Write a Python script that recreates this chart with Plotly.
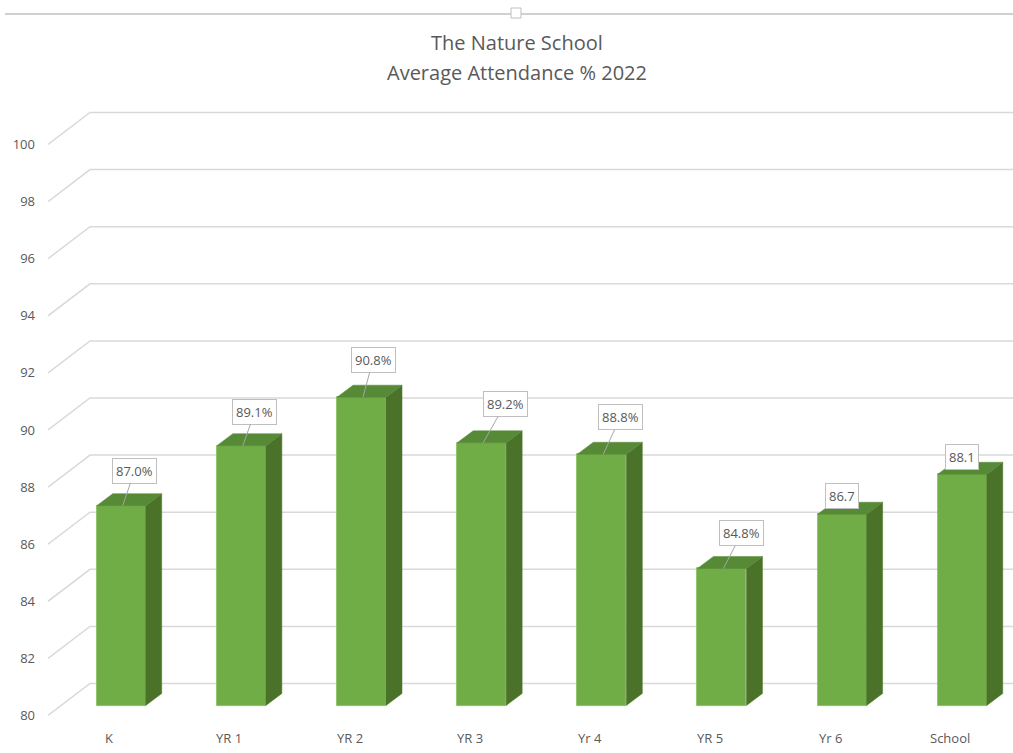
import plotly.graph_objects as go

# ---- data ----
categories = ["K", "YR 1", "YR 2", "YR 3", "Yr 4", "YR 5", "Yr 6", "School"]
attendance = [87.0, 89.1, 90.8, 89.2, 88.8, 84.8, 86.7, 88.1]
value_labels = ["87.0%", "89.1%", "90.8%", "89.2%", "88.8%", "84.8%", "86.7", "88.1"]
y_ticks = list(range(80, 101, 2))

# ---- page / plot geometry (pixels) ----
W, H = 1013, 753
ML, MR, MT, MB = 48, 0, 100, 33
PW, PH = W - ML - MR, H - MT - MB
X_PX = 120.15         # pixels per category step
Y_PX = 28.55          # pixels per attendance point
FIRST_CENTER_PX = 121.2
BASE_PX = 705.5       # pixel row where the columns stand (value 80)
FLOOR = 80
LABEL_DROP_PX = 10    # the axis/gridline front edge sits in front of the columns

x0 = -(FIRST_CENTER_PX - ML) / X_PX
x1 = x0 + PW / X_PX
y0 = FLOOR - (H - MB - BASE_PX) / Y_PX
y1 = y0 + PH / Y_PX
drop = LABEL_DROP_PX / Y_PX

bar_w = 49 / X_PX
# depth of the columns and of the back wall, in data units
bar_dx, bar_dy = 16 / X_PX, 12 / Y_PX
wall_dx, wall_dy = 42 / X_PX, 32 / Y_PX

FRONT = "#70AD47"
SIDE = "#4A7229"
TOP = "#578A37"
GRID = "#D9D9D9"
TEXT = "#595959"
FONT = "Open Sans"

fig = go.Figure()

shapes = []
# floor/back-wall gridlines (on the front axis plane), kept beneath the columns
for v in y_ticks:
    shapes.append(dict(
        type="path", xref="x", yref="y2", layer="below",
        path=f"M {x0},{v} L {x0 + wall_dx},{v + wall_dy} L {x1},{v + wall_dy}",
        line=dict(color=GRID, width=1.5)))

# side and top faces of each column
for i, v in enumerate(attendance):
    xl, xr = i - bar_w / 2, i + bar_w / 2
    fig.add_trace(go.Scatter(
        x=[xr, xr + bar_dx, xr + bar_dx, xr, xr],
        y=[FLOOR, FLOOR + bar_dy, v + bar_dy, v, FLOOR],
        mode="lines", fill="toself", fillcolor=SIDE,
        line=dict(color=SIDE, width=0.5), hoverinfo="skip", showlegend=False))
    fig.add_trace(go.Scatter(
        x=[xl, xl + bar_dx, xr + bar_dx, xr, xl],
        y=[v, v + bar_dy, v + bar_dy, v, v],
        mode="lines", fill="toself", fillcolor=TOP,
        line=dict(color=TOP, width=0.5), hoverinfo="skip", showlegend=False))

# front faces
fig.add_trace(go.Bar(
    x=list(range(len(categories))), y=[v - FLOOR for v in attendance], base=FLOOR,
    width=bar_w, marker=dict(color=FRONT, line=dict(color="#7DBB52", width=0.8)),
    hoverinfo="skip", showlegend=False))

# invisible trace that carries the front-plane value axis
fig.add_trace(go.Scatter(x=[0], y=[FLOOR], yaxis="y2", mode="markers",
                         marker=dict(opacity=0), hoverinfo="skip", showlegend=False))

# value call-outs: (dx, dy) pixel offset of the box, leader line or not
callouts = [(12, -35, True), (12, -34, True), (10, -37, True), (22, -39, True),
            (17, -37, True), (18, -35, True), (0, -18, False), (0, -17, False)]

annotations = []
for i, (v, lab) in enumerate(zip(attendance, value_labels)):
    dx, dy, leader = callouts[i]
    common = dict(text=lab, font=dict(family=FONT, size=13, color=TEXT),
                  bgcolor="white", bordercolor="#BFBFBF", borderwidth=1, borderpad=3)
    if leader:
        annotations.append(dict(
            x=i + 1.5 / X_PX, y=v, xref="x", yref="y",
            showarrow=True, arrowhead=0, arrowwidth=1, arrowcolor="#A6A6A6",
            axref="pixel", ayref="pixel", ax=dx, ay=dy, standoff=0, **common))
    else:
        annotations.append(dict(
            x=i, y=v, xref="x", yref="y", showarrow=False,
            xshift=dx, yshift=-dy, **common))

# category names under the columns
for i, c in enumerate(categories):
    annotations.append(dict(
        x=i, y=0, xref="x", yref="paper", yanchor="top", xshift=-12, yshift=-7,
        text=c, showarrow=False, font=dict(family=FONT, size=13, color=TEXT)))

# chart title
def py(pixel_y):
    return (H - MB - pixel_y) / PH

def px(pixel_x):
    return (pixel_x - ML) / PW

for txt, yy in [("The Nature School", 42), ("Average Attendance % 2022", 72)]:
    annotations.append(dict(
        x=px(517), y=py(yy), xref="paper", yref="paper", xanchor="center",
        yanchor="middle", text=txt, showarrow=False,
        font=dict(family=FONT, size=20, color=TEXT)))

shapes += [
    dict(type="line", xref="paper", yref="paper", x0=px(5), x1=px(1013),
         y0=py(14), y1=py(14), line=dict(color="#D0D0D0", width=2)),
    dict(type="rect", xref="paper", yref="paper", x0=px(511), x1=px(521),
         y0=py(18), y1=py(8), fillcolor="white", line=dict(color="#BFBFBF", width=1)),
]

fig.update_layout(
    width=W, height=H, autosize=False,
    margin=dict(l=ML, r=MR, t=MT, b=MB, pad=0),
    paper_bgcolor="white", plot_bgcolor="white",
    xaxis=dict(range=[x0, x1], showgrid=False, zeroline=False, showticklabels=False,
               showline=False, fixedrange=True),
    yaxis=dict(range=[y0, y1], showgrid=False, zeroline=False, showline=False,
               showticklabels=False, fixedrange=True),
    yaxis2=dict(range=[y0 + drop, y1 + drop], overlaying="y", side="left",
                showgrid=False, zeroline=False, showline=False,
                tickvals=y_ticks, ticktext=[str(t) for t in y_ticks],
                ticks="", ticklabelstandoff=12,
                tickfont=dict(family=FONT, size=13, color=TEXT), fixedrange=True),
    annotations=annotations, shapes=shapes, bargap=0,
)

fig.write_html("out.html")
